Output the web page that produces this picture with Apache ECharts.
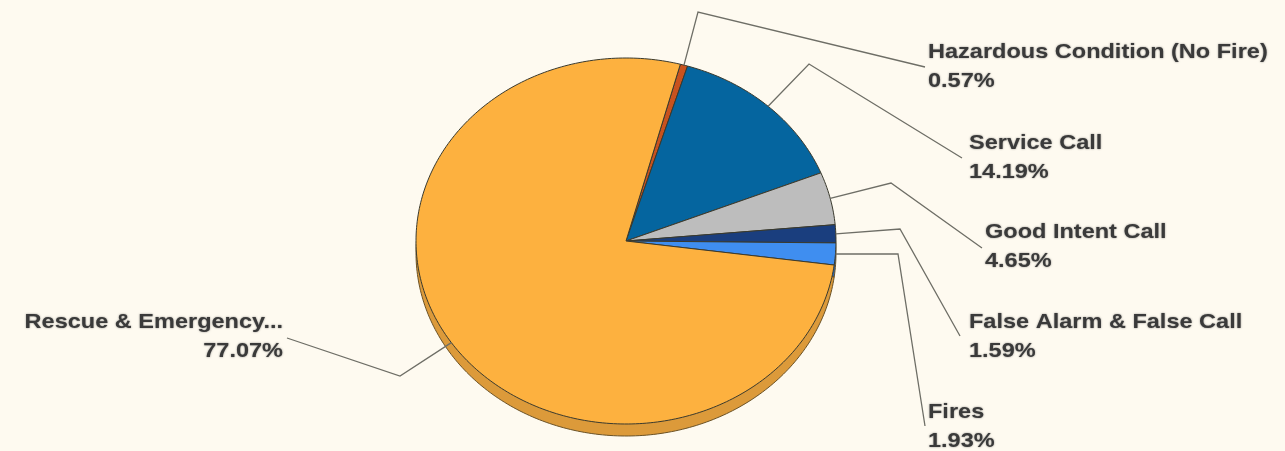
<!DOCTYPE html>
<html><head><meta charset="utf-8">
<style>html,body{margin:0;padding:0;background:#fefaf0}#c{width:1285px;height:451px}</style>
<script src="https://cdn.jsdelivr.net/npm/echarts@6/dist/echarts.min.js"></script></head>
<body><div id="c"></div>
<script>
const categories = ['Hazardous Condition (No Fire)','Service Call','Good Intent Call','False Alarm & False Call','Fires','Rescue & Emergency...'];
const shares = [0.57,14.19,4.65,1.59,1.93,77.07];
const faceColors = ['#c8521e','#05659f','#bdbdbd','#1a3e7e','#3f8ef0','#fdb13f'];
const sideColors = ['#8f3a15','#044a75','#8a8a8a','#122c5a','#2c65ad','#dc9a3a'];
// leader-line elbow, leader end, text anchor (layout only)
const elbows = [[698,12],[809,64],[891,183],[900,229],[898,254],[400,376]];
const leaderEnds = [[925,67],[962,158],[982,248],[960,336],[925,426],[287,338]];
const textAnchors = [[928,52,'left'],[969,143,'left'],[985,232,'left'],[969,322,'left'],[928,412,'left'],[283,322,'right']];

const CX=626, CY=241, RX=210, RY=183, DEPTH=12, START=15;
const total = shares.reduce((a,b)=>a+b,0);
const starts = []; shares.reduce((acc,v,i)=>{starts[i]=acc;return acc+v;},0);
const onEdge=(deg,dy)=>{const t=deg*Math.PI/180;return [CX+RX*Math.sin(t),CY+dy-RY*Math.cos(t)];};
function sector(a0,a1,dy){
  const pts=[[CX,CY+dy]];
  const n=Math.max(2,Math.ceil((a1-a0)));
  for(let k=0;k<=n;k++)pts.push(onEdge(a0+(a1-a0)*k/n,dy));
  return pts;
}
const font='bold 21px "Liberation Sans", Arial, sans-serif';
function renderItem(params,api){
  const i=params.dataIndex, v=api.value(0);
  const a0=START+starts[i]/total*360, a1=a0+v/total*360, mid=(a0+a1)/2;
  const [tx,ty,align]=textAnchors[i];
  const textEl=(s,y)=>({type:'text',z2:4,x:tx,y,scaleX:1.12,style:{x:0,y:0,text:s,font,fill:'#3a3a3a',align,verticalAlign:'middle',
    textShadowColor:'rgba(60,60,60,0.6)',textShadowBlur:2}});
  return {type:'group',children:[
    {type:'polygon',z2:1,shape:{points:sector(a0,a1,DEPTH)},style:{fill:sideColors[i],stroke:'#6b5226',lineWidth:1}},
    {type:'polygon',z2:2,shape:{points:sector(a0,a1,0)},style:{fill:faceColors[i],stroke:'#3a3a2e',lineWidth:1}},
    {type:'polyline',z2:3,shape:{points:[onEdge(mid,0),elbows[i],leaderEnds[i]]},style:{fill:null,stroke:'#6e6e66',lineWidth:1.3}},
    textEl(categories[i],ty),
    textEl(v.toFixed(2)+'%',ty+29.5)
  ]};
}
const chart=echarts.init(document.getElementById('c'));
chart.setOption({
  backgroundColor:'#fefaf0',
  animation:false,
  series:[{type:'custom',coordinateSystem:'none',renderItem,
    data:categories.map((name,i)=>({name,value:shares[i]}))}]
});
</script></body></html>
